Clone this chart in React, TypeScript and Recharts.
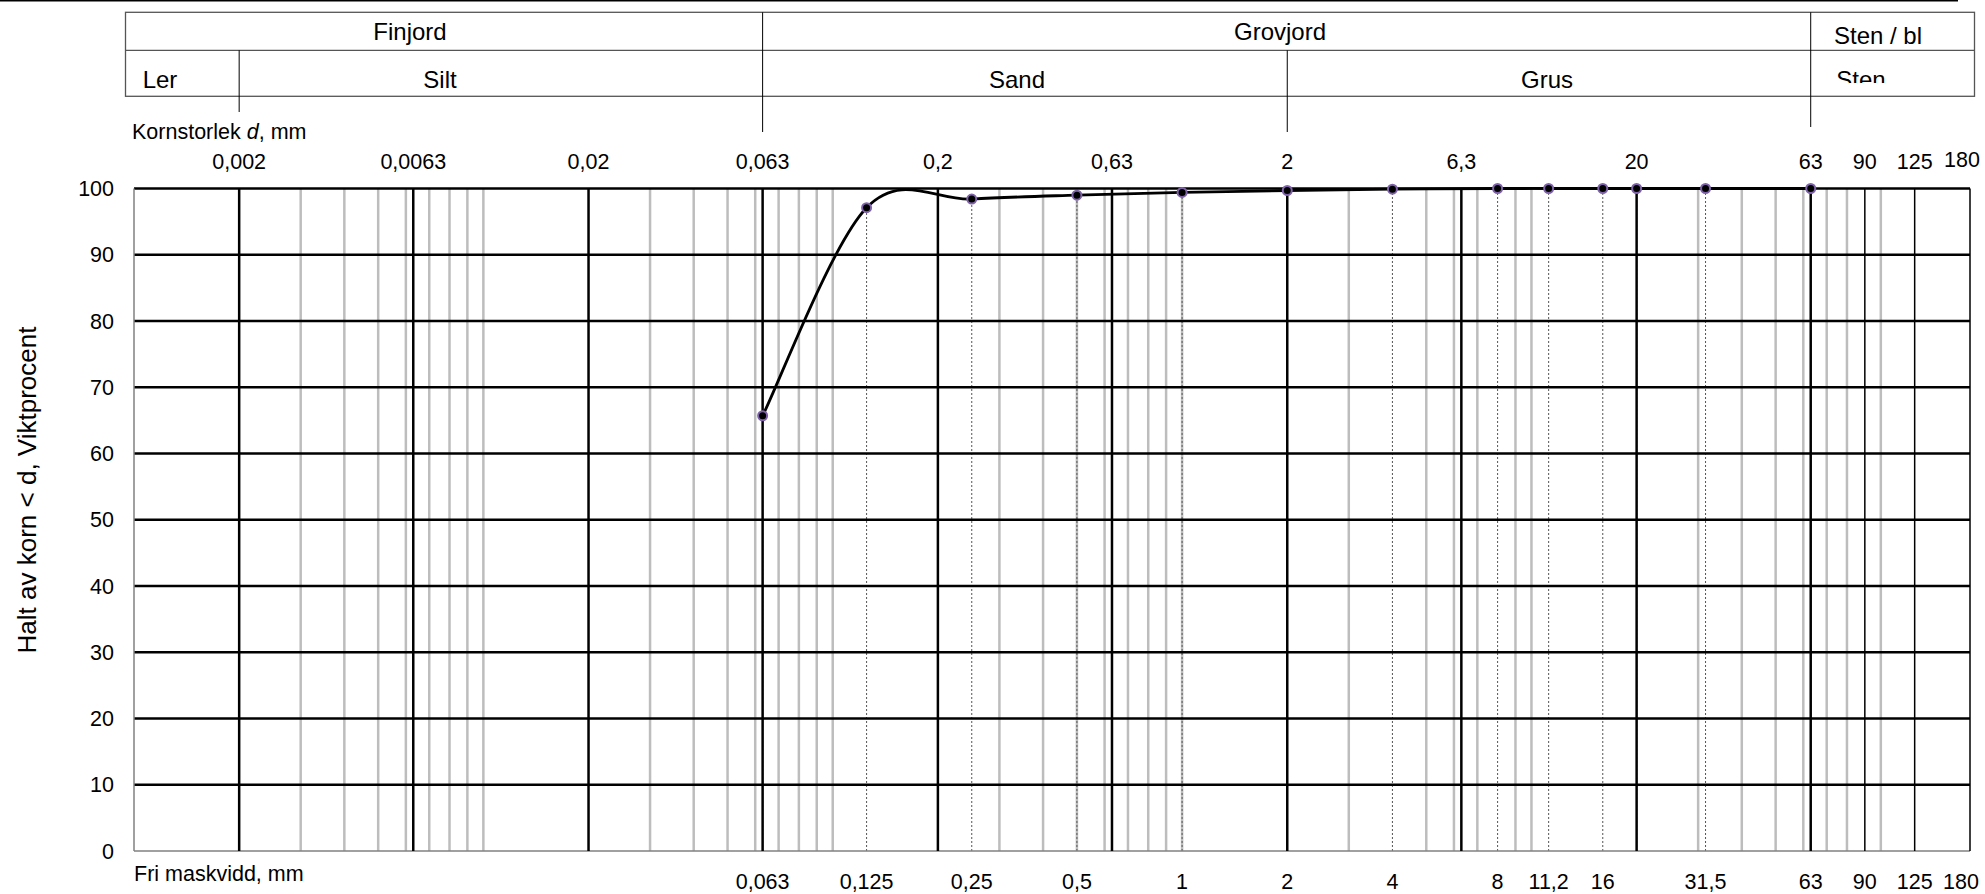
import React from "react";
import { LineChart, Line, XAxis, YAxis, ReferenceLine } from "recharts";

// sieve analysis (Fri maskvidd, mm) and passing weight %
const sieveSizes = [0.063, 0.125, 0.25, 0.5, 1, 2, 4, 8, 11.2, 16, 20, 31.5, 63];
const passing = [65.7, 97.1, 98.4, 99.0, 99.4, 99.7, 99.9, 100, 100, 100, 100, 100, 100];

const topTicks = [0.002, 0.0063, 0.02, 0.063, 0.2, 0.63, 2, 6.3, 20, 63, 90, 125, 180];
const bottomTicks = [0.063, 0.125, 0.25, 0.5, 1, 2, 4, 8, 11.2, 16, 31.5, 63, 90, 125, 180];
const yTicks = [0, 10, 20, 30, 40, 50, 60, 70, 80, 90, 100];

const majorLines = [0.002, 0.0063, 0.02, 0.063, 0.2, 0.63, 2, 6.3, 20, 63];
const thinLines = [90, 125, 180];
const minorLines = [
  0.003, 0.004, 0.005, 0.006, 0.007, 0.008, 0.009, 0.01,
  0.03, 0.04, 0.05, 0.06, 0.07, 0.08, 0.09, 0.1,
  0.3, 0.4, 0.5, 0.6, 0.7, 0.8, 0.9, 1,
  3, 5, 6, 7, 9, 10,
  30, 40, 50, 60, 70, 80, 100,
];

const DOMAIN: [number, number] = [0.001, 180];
const W = 1985;
const H = 894;
const PLOT_L = 134;
const PLOT_R = 1970;
const FONT = "'Liberation Sans', Arial, sans-serif";
const TICK_FS = 21.5;

const data = sieveSizes.map((s, i) => ({ size: s, pass: passing[i] }));

const fmt = (v: number) => String(v).replace(".", ",");

// same log mapping as the x axis, only used for the header table dividers
const xAt = (d: number) =>
  PLOT_L + ((PLOT_R - PLOT_L) * Math.log10(d / DOMAIN[0])) / Math.log10(DOMAIN[1] / DOMAIN[0]);

// Excel-like smoothed line (Catmull-Rom)
const smooth = (context: any) => {
  let pts: number[][] = [];
  return {
    areaStart() {},
    areaEnd() {},
    lineStart() {
      pts = [];
    },
    point(x: number, y: number) {
      pts.push([+x, +y]);
    },
    lineEnd() {
      if (!pts.length) return;
      context.moveTo(pts[0][0], pts[0][1]);
      for (let i = 0; i < pts.length - 1; i++) {
        const p0 = pts[i - 1] || pts[i];
        const p1 = pts[i];
        const p2 = pts[i + 1];
        const p3 = pts[i + 2] || pts[i + 1];
        context.bezierCurveTo(
          p1[0] + (p2[0] - p0[0]) / 6,
          p1[1] + (p2[1] - p0[1]) / 6,
          p2[0] - (p3[0] - p1[0]) / 6,
          p2[1] - (p3[1] - p1[1]) / 6,
          p2[0],
          p2[1]
        );
      }
    },
  };
};

function TopTick(props: any) {
  const { x, y, payload } = props;
  const last = payload.value === 180;
  return (
    <text x={x + (last ? -8 : 0)} y={y - 20 - (last ? 2 : 0)} textAnchor="middle" fontSize={TICK_FS} fill="#000" fontFamily={FONT}>
      {fmt(payload.value)}
    </text>
  );
}

function BottomTick(props: any) {
  const { x, y, payload } = props;
  const last = payload.value === 180;
  return (
    <text x={x + (last ? -9 : 0)} y={y + 38} textAnchor="middle" fontSize={TICK_FS} fill="#000" fontFamily={FONT}>
      {fmt(payload.value)}
    </text>
  );
}

function Header() {
  const tL = 125.5;
  const tR = 1974.5;
  const txt = { fontSize: 24, fill: "#000", fontFamily: FONT, textAnchor: "middle" as const };
  return (
    <svg width={W} height={H} style={{ position: "absolute", left: 0, top: 0, pointerEvents: "none" }}>
      <defs>
        <clipPath id="stenClip">
          <rect x={xAt(63)} y={51} width={tR - xAt(63)} height={32} />
        </clipPath>
      </defs>
      <line x1={0} y1={0.75} x2={1958} y2={0.75} stroke="#000" strokeWidth={1.5} />
      <rect x={tL} y={12.3} width={tR - tL} height={84} fill="none" stroke="#555" strokeWidth={1.3} />
      <line x1={tL} y1={50.3} x2={tR} y2={50.3} stroke="#555" strokeWidth={1.3} />
      <line x1={xAt(0.063)} y1={12.3} x2={xAt(0.063)} y2={132} stroke="#000" strokeWidth={1} />
      <line x1={xAt(2)} y1={50.3} x2={xAt(2)} y2={132} stroke="#000" strokeWidth={1} />
      <line x1={xAt(63)} y1={12.3} x2={xAt(63)} y2={127} stroke="#000" strokeWidth={1} />
      <line x1={xAt(0.002)} y1={50.3} x2={xAt(0.002)} y2={112} stroke="#000" strokeWidth={1} />
      <text x={410} y={40} {...txt}>Finjord</text>
      <text x={1280} y={40} {...txt}>Grovjord</text>
      <text x={1878} y={43.5} {...txt}>Sten / bl</text>
      <text x={160} y={88} {...txt}>Ler</text>
      <text x={440} y={88} {...txt}>Silt</text>
      <text x={1017} y={88} {...txt}>Sand</text>
      <text x={1547} y={88} {...txt}>Grus</text>
      <text x={1861} y={88} {...txt} clipPath="url(#stenClip)">Sten</text>
      <text x={132} y={139} fontSize={TICK_FS} fill="#000" fontFamily={FONT}>
        Kornstorlek <tspan fontStyle="italic">d</tspan>, mm
      </text>
      <text x={134} y={881} fontSize={TICK_FS} fill="#000" fontFamily={FONT}>
        Fri maskvidd, mm
      </text>
      <text
        x={27}
        y={490}
        transform="rotate(-90 27 490)"
        textAnchor="middle"
        dominantBaseline="central"
        fontSize={26}
        fill="#000"
        fontFamily={FONT}
      >
        Halt av korn &lt; d, Viktprocent
      </text>
    </svg>
  );
}

export default function App() {
  return (
    <div style={{ position: "absolute", left: 0, top: 0, width: W, height: H, background: "#fff" }}>
      <LineChart
        width={W}
        height={H}
        data={data}
        margin={{ top: 150, right: W - PLOT_R, bottom: 13, left: PLOT_L - 60 }}
        style={{ fontFamily: FONT }}
      >
        <XAxis
          xAxisId="top"
          orientation="top"
          type="number"
          dataKey="size"
          scale="log"
          domain={DOMAIN}
          allowDataOverflow
          ticks={topTicks}
          interval={0}
          height={38.5}
          axisLine={false}
          tickLine={false}
          tickSize={0}
          tickMargin={0}
          tick={<TopTick />}
        />
        <XAxis
          xAxisId="bottom"
          orientation="bottom"
          type="number"
          dataKey="size"
          scale="log"
          domain={DOMAIN}
          allowDataOverflow
          ticks={bottomTicks}
          interval={0}
          height={30}
          axisLine={false}
          tickLine={false}
          tickSize={0}
          tickMargin={0}
          tick={<BottomTick />}
        />
        <YAxis
          yAxisId="y"
          type="number"
          domain={[0, 100]}
          ticks={yTicks}
          interval={0}
          width={60}
          axisLine={{ stroke: "#808080", strokeWidth: 1.5 }}
          tickLine={false}
          tickSize={0}
          tickMargin={20}
          tick={{ fill: "#000", fontSize: TICK_FS, fontFamily: FONT }}
        />

        {minorLines.map((v) => (
          <ReferenceLine key={"m" + v} xAxisId="bottom" yAxisId="y" x={v} stroke="#bdbdbd" strokeWidth={2.5} />
        ))}
        {sieveSizes.map((s, i) => (
          <ReferenceLine
            key={"s" + s}
            xAxisId="bottom"
            yAxisId="y"
            segment={[
              { x: s, y: 0 },
              { x: s, y: passing[i] },
            ]}
            stroke="#555"
            strokeWidth={1}
            strokeDasharray="2 2"
          />
        ))}
        {yTicks.map((v) => (
          <ReferenceLine
            key={"h" + v}
            xAxisId="bottom"
            yAxisId="y"
            y={v}
            stroke={v === 0 ? "#808080" : "#000"}
            strokeWidth={v === 0 ? 1.5 : 2.5}
          />
        ))}
        {majorLines.map((v) => (
          <ReferenceLine key={"M" + v} xAxisId="bottom" yAxisId="y" x={v} stroke="#000" strokeWidth={2.5} />
        ))}
        {thinLines.map((v) => (
          <ReferenceLine key={"t" + v} xAxisId="bottom" yAxisId="y" x={v} stroke="#000" strokeWidth={1.5} />
        ))}

        <Line
          xAxisId="bottom"
          yAxisId="y"
          dataKey="pass"
          type={smooth as any}
          stroke="#000"
          strokeWidth={2.8}
          dot={{ r: 4.5, fill: "#000", stroke: "#7e63a8", strokeWidth: 2 }}
          activeDot={false}
          isAnimationActive={false}
        />
      </LineChart>
      <Header />
    </div>
  );
}
